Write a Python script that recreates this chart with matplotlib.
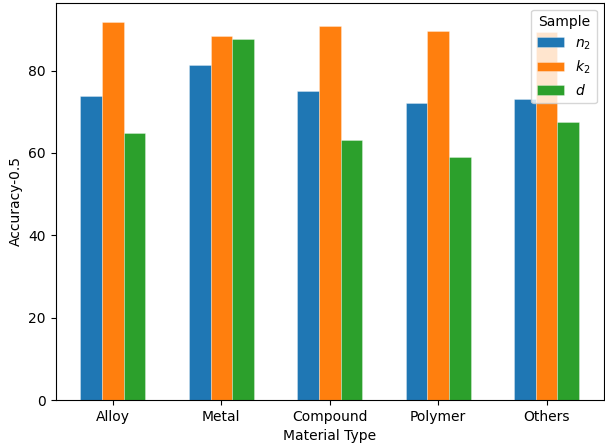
import numpy as np
import matplotlib
matplotlib.use("Agg")
import matplotlib.pyplot as plt

categories = ["Alloy", "Metal", "Compound", "Polymer", "Others"]
series_labels = ["$n_2$", "$k_2$", "$d$"]
n2_values = [73.9, 81.4, 75.1, 72.1, 73.2]
k2_values = [91.9, 88.5, 90.8, 89.6, 89.3]
d_values = [64.9, 87.6, 63.1, 58.9, 67.6]

series = [n2_values, k2_values, d_values]
colors = ["#1f77b4", "#ff7f0e", "#2ca02c"]

fig = plt.figure(figsize=(6.05, 4.44), dpi=100)
ax = fig.add_axes([55.5 / 605, 44 / 444, (604 - 55.5) / 605, (400 - 2.7) / 444])

x = np.arange(len(categories))
width = 0.2
for i, (vals, lab, c) in enumerate(zip(series, series_labels, colors)):
    ax.bar(x + (i - 1) * width, vals, width, label=lab, color=c,
           edgecolor=(1, 1, 1, 0.35), linewidth=0.6)

ax.set_xticks(x)
ax.set_xticklabels(categories)
ax.set_xlabel("Material Type")
ax.set_ylabel("Accuracy-0.5")
ax.legend(title="Sample", loc="upper right")

fig.savefig("out.png", dpi=100)
